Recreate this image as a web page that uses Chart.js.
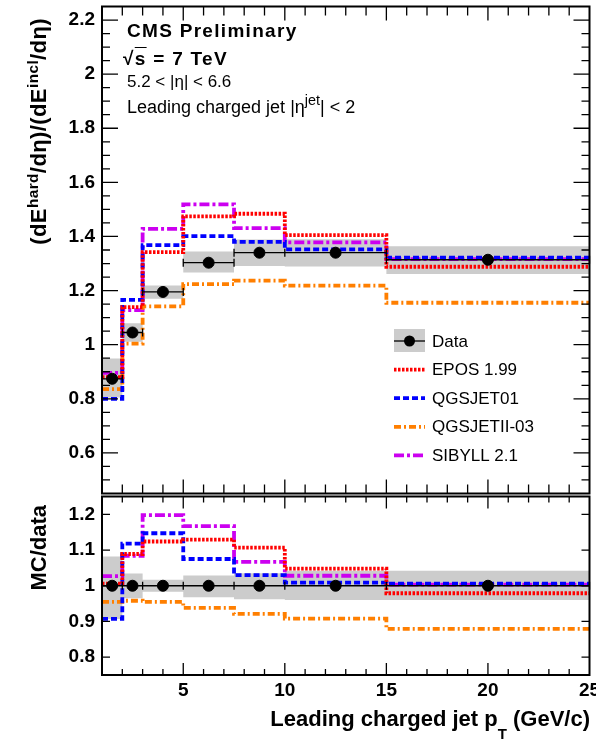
<!DOCTYPE html>
<html>
<head>
<meta charset="utf-8">
<script src="https://cdn.jsdelivr.net/npm/chart.js@4.4.1/dist/chart.umd.min.js"></script>
<style>
  body { margin: 0; background: #fff; }
  #page { position: relative; width: 596px; height: 740px; overflow: hidden; font-family: "Liberation Sans", Arial, sans-serif; color: #000; }
  canvas { position: absolute; left: 0; }
  #topChart { top: 0; }
  #ratioChart { top: 490px; }
  .txt { position: absolute; white-space: nowrap; line-height: 1; pointer-events: none; }
  .ytitle { position: absolute; white-space: nowrap; font-weight: bold; font-size: 22px; line-height: 24px;
            text-align: right; transform-origin: left top; transform: rotate(-90deg); }
  sup { font-size: 0.7em; line-height: 0; vertical-align: 0.55em; }
</style>
</head>
<body>
<div id="page">
  <canvas id="topChart" width="596" height="500"></canvas>
  <canvas id="ratioChart" width="596" height="250"></canvas>

  <div class="txt" style="left:127px;top:21px;font-weight:bold;font-size:19px;letter-spacing:1.3px">CMS Preliminary</div>
  <div class="txt" style="left:123px;top:49px;font-weight:bold;font-size:19px;letter-spacing:1.3px">√<span style="text-decoration:overline">s</span> = 7 TeV</div>
  <div class="txt" style="left:127px;top:73px;font-size:17px">5.2 &lt; |η| &lt; 6.6</div>
  <div class="txt" style="left:127px;top:98px;font-size:18px">Leading charged jet |η<sup style="font-size:0.8em">jet</sup>| &lt; 2</div>

  <div class="ytitle" style="left:27px;top:318px;width:300px;letter-spacing:0.4px">(dE<sup>hard</sup>/dη)/(dE<sup>incl</sup>/dη)</div>
  <div class="ytitle" style="left:27px;top:625px;width:120px">MC/data</div>

  <div class="txt" style="right:6px;top:708px;font-weight:bold;font-size:22px">Leading charged jet p<span style="font-size:15px;line-height:0;vertical-align:-13px">T</span> (GeV/c)</div>
</div>

<script>
// pT bins of the leading charged jet (GeV/c)
const binEdges = [1, 2, 3, 5, 7.5, 10, 15, 25];
const binCenters = [1.5, 2.5, 4, 6.25, 8.75, 12.5, 20];

// hard / inclusive energy ratio
const dataValues = [0.874, 1.045, 1.195, 1.303, 1.340, 1.340, 1.314];
const dataSystLow = [0.805, 1.011, 1.170, 1.267, 1.291, 1.289, 1.261];
const dataSystHigh = [0.949, 1.079, 1.219, 1.344, 1.389, 1.390, 1.364];
const eposValues = [0.880, 1.139, 1.342, 1.474, 1.484, 1.405, 1.288];
const qgsjet01Values = [0.800, 1.166, 1.368, 1.401, 1.380, 1.352, 1.322];
const qgsjet2Values = [0.836, 1.004, 1.142, 1.224, 1.237, 1.218, 1.155];
const sibyllValues = [0.896, 1.128, 1.428, 1.519, 1.431, 1.378, 1.316];

// MC / data
const ratioData = [1, 1, 1, 1, 1, 1, 1];
const ratioSystLow = [0.907, 0.965, 0.983, 0.968, 0.962, 0.960, 0.960];
const ratioSystHigh = [1.082, 1.034, 1.017, 1.029, 1.035, 1.042, 1.042];
const eposRatio = [1.006, 1.089, 1.124, 1.129, 1.107, 1.048, 0.979];
const qgsjet01Ratio = [0.907, 1.118, 1.147, 1.075, 1.030, 1.009, 1.006];
const qgsjet2Ratio = [0.955, 0.958, 0.955, 0.938, 0.921, 0.908, 0.879];
const sibyllRatio = [1.027, 1.084, 1.198, 1.167, 1.067, 1.028, 1.003];

// axis ticks
const xTickLabels = [5, 10, 15, 20, 25];
const topYTicks = [0.6, 0.8, 1, 1.2, 1.4, 1.6, 1.8, 2, 2.2];
const ratioYTicks = [0.8, 0.9, 1, 1.1, 1.2];

const legendLabels = ['Data', 'EPOS 1.99', 'QGSJET01', 'QGSJETII-03', 'SIBYLL 2.1'];

const FONT = '"Liberation Sans", Arial, sans-serif';
const bandColor = '#cccccc';

// histogram as points on the low bin edges, closed at the last edge
function stepPoints(values) {
  const pts = values.map((v, i) => ({ x: binEdges[i], y: v }));
  pts.push({ x: binEdges[binEdges.length - 1], y: values[values.length - 1] });
  return pts;
}

function centerPoints(values) {
  return binCenters.map((x, i) => ({ x: x, y: values[i] }));
}

function mcLine(label, values, color, dash) {
  return {
    label: label,
    data: stepPoints(values),
    stepped: 'before',
    borderColor: color,
    borderWidth: 3.8,
    borderDash: dash,
    borderCapStyle: 'butt',
    pointRadius: 0,
    fill: false,
    order: 1
  };
}

function panelDatasets(p) {
  return [
    { label: 'syst low', data: stepPoints(p.low), stepped: 'before', borderWidth: 0,
      borderColor: 'rgba(0,0,0,0)', pointRadius: 0, fill: false, order: 3 },
    { label: 'syst high', data: stepPoints(p.high), stepped: 'before', borderWidth: 0,
      borderColor: 'rgba(0,0,0,0)', backgroundColor: bandColor, pointRadius: 0, fill: '-1', order: 3 },
    mcLine('EPOS 1.99', p.epos, '#ff0000', [2.5, 1.5]),
    mcLine('QGSJET01', p.qgs01, '#0000ff', [6, 3]),
    mcLine('QGSJETII-03', p.qgs2, '#ff7f00', [7, 3, 2, 3]),
    mcLine('SIBYLL 2.1', p.sib, '#cc00f0', [10, 3, 3, 3]),
    { label: 'Data', data: centerPoints(p.data), showLine: false, pointRadius: 5.5,
      pointBackgroundColor: '#000', pointBorderColor: '#000', order: 0 }
  ];
}

// data: horizontal bin-width bars with end caps, under the markers
const dataBars = {
  id: 'dataBars',
  beforeDatasetDraw(chart, args, opts) {
    if (chart.data.datasets[args.index].label !== 'Data') return;
    const { ctx, scales: { x, y } } = chart;
    ctx.save();
    ctx.strokeStyle = '#000';
    ctx.lineWidth = 1.3;
    ctx.beginPath();
    opts.values.forEach((v, i) => {
      const x0 = x.getPixelForValue(binEdges[i]);
      const x1 = x.getPixelForValue(binEdges[i + 1]);
      const py = y.getPixelForValue(v);
      ctx.moveTo(x0, py); ctx.lineTo(x1, py);
      ctx.moveTo(x0, py - 4); ctx.lineTo(x0, py + 4);
      ctx.moveTo(x1, py - 4); ctx.lineTo(x1, py + 4);
    });
    ctx.stroke();
    ctx.restore();
  }
};

// closed frame with inward ticks on all four sides
const frame = {
  id: 'frame',
  afterDatasetsDraw(chart, args, opts) {
    const { ctx, chartArea: a, scales: { x, y } } = chart;
    ctx.save();
    ctx.strokeStyle = '#000';
    ctx.lineWidth = 1.3;
    ctx.beginPath();
    for (let v = 2; v < 25; v++) {
      const px = x.getPixelForValue(v);
      const len = v % 5 === 0 ? opts.xMajor : opts.xMinor;
      ctx.moveTo(px, a.top); ctx.lineTo(px, a.top + len);
      ctx.moveTo(px, a.bottom); ctx.lineTo(px, a.bottom - len);
    }
    const yTick = (v, len) => {
      const py = y.getPixelForValue(v);
      ctx.moveTo(a.left, py); ctx.lineTo(a.left + len, py);
      ctx.moveTo(a.right, py); ctx.lineTo(a.right - len, py);
    };
    if (opts.yStep) {
      for (let v = y.min + opts.yStep; v < y.max - 1e-6; v += opts.yStep) yTick(v, opts.yMinor);
    }
    opts.yTicks.forEach(v => yTick(v, opts.yMajor));
    ctx.stroke();
    ctx.lineWidth = 2;
    ctx.strokeRect(a.left, a.top, a.right - a.left, a.bottom - a.top);
    ctx.restore();
  }
};

const legend = {
  id: 'modelLegend',
  afterDraw(chart) {
    const ctx = chart.ctx;
    const x0 = 394, x1 = 425, textX = 432;
    ctx.save();
    ctx.font = '17px ' + FONT;
    ctx.textBaseline = 'middle';
    ctx.fillStyle = '#000';
    legendLabels.forEach((label, i) => {
      const yc = 341 + i * 28.6;
      if (label === 'Data') {
        ctx.fillStyle = bandColor;
        ctx.fillRect(x0, yc - 12, x1 - x0, 23);
        ctx.strokeStyle = '#000';
        ctx.lineWidth = 1.3;
        ctx.beginPath();
        ctx.moveTo(x0, yc); ctx.lineTo(x1, yc);
        ctx.stroke();
        ctx.fillStyle = '#000';
        ctx.beginPath();
        ctx.arc((x0 + x1) / 2, yc, 5.5, 0, Math.PI * 2);
        ctx.fill();
      } else {
        const ds = chart.data.datasets.find(d => d.label === label);
        ctx.strokeStyle = ds.borderColor;
        ctx.lineWidth = ds.borderWidth;
        ctx.setLineDash(ds.borderDash);
        ctx.beginPath();
        ctx.moveTo(x0, yc); ctx.lineTo(x1, yc);
        ctx.stroke();
        ctx.setLineDash([]);
      }
      ctx.fillStyle = '#000';
      ctx.fillText(label, textX, yc + 1);
    });
    ctx.restore();
  }
};

function yScale(min, max, ticks) {
  return {
    type: 'linear',
    min: min,
    max: max,
    grid: { display: false, drawTicks: false },
    border: { display: false },
    afterBuildTicks: s => { s.ticks = ticks.map(v => ({ value: v })); },
    afterFit: s => { s.width = 102; s.paddingTop = 0; s.paddingBottom = 0; },
    ticks: {
      padding: 7,
      color: '#000',
      font: { family: FONT, size: 19, weight: 'bold' },
      callback: v => String(v)
    }
  };
}

const common = {
  responsive: false,
  animation: false,
  events: [],
  plugins: { legend: { display: false }, tooltip: { enabled: false } }
};

new Chart(document.getElementById('topChart'), {
  type: 'line',
  data: {
    datasets: panelDatasets({
      low: dataSystLow, high: dataSystHigh, epos: eposValues, qgs01: qgsjet01Values,
      qgs2: qgsjet2Values, sib: sibyllValues, data: dataValues
    })
  },
  options: {
    ...common,
    layout: { padding: { left: 0, right: 6, top: 4, bottom: 4 } },
    scales: {
      x: { type: 'linear', min: 1, max: 25, display: false },
      y: yScale(0.45, 2.25, topYTicks)
    },
    plugins: {
      ...common.plugins,
      dataBars: { values: dataValues },
      frame: { xMajor: 14, xMinor: 9, yMajor: 16, yMinor: 8, yStep: 0.05, yTicks: topYTicks }
    }
  },
  plugins: [dataBars, frame, legend]
});

new Chart(document.getElementById('ratioChart'), {
  type: 'line',
  data: {
    datasets: panelDatasets({
      low: ratioSystLow, high: ratioSystHigh, epos: eposRatio, qgs01: qgsjet01Ratio,
      qgs2: qgsjet2Ratio, sib: sibyllRatio, data: ratioData
    })
  },
  options: {
    ...common,
    layout: { padding: { left: 0, right: 6, top: 6, bottom: 0 } },
    scales: {
      x: {
        type: 'linear',
        min: 1,
        max: 25,
        grid: { display: false, drawTicks: false },
        border: { display: false },
        afterBuildTicks: s => { s.ticks = xTickLabels.map(v => ({ value: v })); },
        afterFit: s => { s.height = 65; s.paddingLeft = 0; s.paddingRight = 0; },
        ticks: {
          padding: 4,
          autoSkip: false,
          maxRotation: 0,
          color: '#000',
          font: { family: FONT, size: 19, weight: 'bold' },
          callback: v => String(v)
        }
      },
      y: yScale(0.75, 1.25, ratioYTicks)
    },
    plugins: {
      ...common.plugins,
      dataBars: { values: ratioData },
      frame: { xMajor: 12, xMinor: 6, yMajor: 8, yMinor: 0, yStep: 0, yTicks: ratioYTicks }
    }
  },
  plugins: [dataBars, frame]
});
</script>
</body>
</html>
